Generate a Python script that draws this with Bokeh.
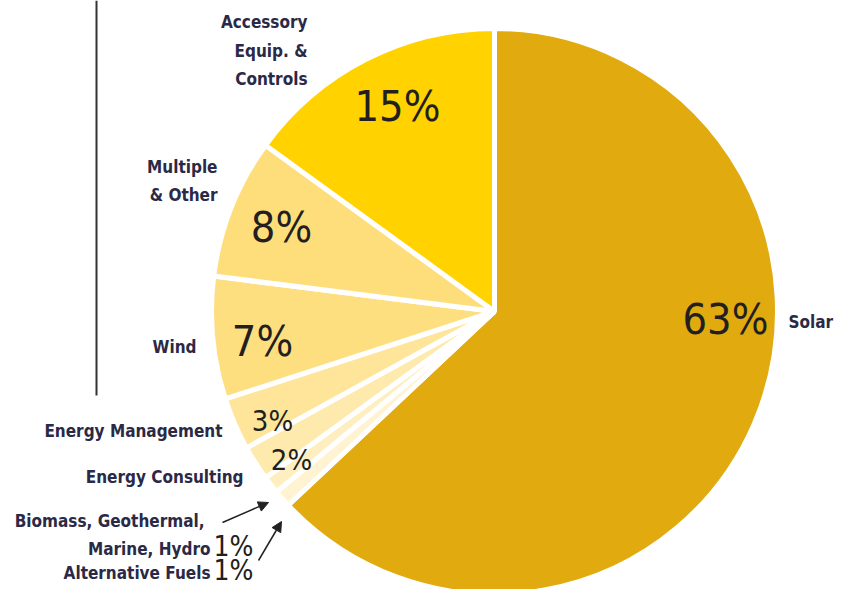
import numpy as np
from bokeh.plotting import figure
from bokeh.models import Range1d, Arrow, NormalHead
from bokeh.core.properties import value
from bokeh.embed import file_html
from bokeh.resources import INLINE

# ---- data (clockwise from 12 o'clock) ----
categories = ["Solar", "Alternative Fuels", "Biomass, Geothermal, Marine, Hydro",
              "Energy Consulting", "Energy Management", "Wind",
              "Multiple & Other", "Accessory Equip. & Controls"]
shares = [63, 1, 1, 2, 3, 7, 8, 15]
colors = ["#E1AA0E", "#FFF3D2", "#FFEFC0", "#FEEAAD", "#FEE59A", "#FEDF80",
          "#FEDE7B", "#FFD200"]
pct_labels = ["63%", "1%", "1%", "2%", "3%", "7%", "8%", "15%"]

W_FIG, H_FIG = 836, 589
def Y(py):
    return H_FIG - py

p = figure(width=W_FIG, height=H_FIG, output_backend="svg", toolbar_location=None,
           x_range=Range1d(0, W_FIG), y_range=Range1d(0, H_FIG),
           min_border=0, outline_line_color=None)
p.axis.visible = False
p.grid.visible = False
p.background_fill_color = "white"
p.border_fill_color = "white"

# ---- pie ----
cx, cy, r = 494, Y(311), 283
frac = np.array(shares, dtype=float) / sum(shares)
ends = np.pi / 2 - 2 * np.pi * np.cumsum(frac)
starts = np.concatenate([[np.pi / 2], ends[:-1]])
p.wedge(x=cx, y=cy, radius=r, start_angle=ends, end_angle=starts,
        direction="anticlock", fill_color=colors, line_color="white", line_width=5)

LFONT = value("DejaVu Sans Condensed")
LCOL = "#2A2946"
PCOL = "#231F20"

# ---- category labels (right aligned) ----
lab_text = ["Accessory", "Equip. &", "Controls", "Multiple", "& Other", "Wind",
            "Energy Management", "Energy Consulting", "Biomass, Geothermal,",
            "Marine, Hydro", "Alternative Fuels"]
lab_x = [307, 307, 307, 217, 217, 196, 222, 243, 204, 210, 210]
lab_y = [Y(v) for v in [21, 50, 78, 166, 194, 346, 430, 476, 520, 548, 572]]
p.text(x=lab_x, y=lab_y, text=lab_text, text_font=LFONT, text_font_style="bold",
       text_font_size="17px", text_color=LCOL, text_align="right",
       text_baseline="middle")
p.text(x=[788], y=[Y(321)], text=["Solar"], text_font=LFONT, text_font_style="bold",
       text_font_size="17px", text_color=LCOL, text_align="left",
       text_baseline="middle")

# ---- percentage labels ----
big_idx = [0, 5, 6, 7]
big_x = [725, 262, 281, 397]
big_y = [Y(v) for v in [318, 340, 226, 105]]
p.text(x=big_x, y=big_y, text=[pct_labels[i] for i in big_idx], text_font=LFONT,
       text_font_size="43px", text_color=PCOL, text_align="center",
       text_baseline="middle")
small_idx = [4, 3]
small_x = [272, 291]
small_y = [Y(v) for v in [420, 459]]
p.text(x=small_x, y=small_y, text=[pct_labels[i] for i in small_idx], text_font=LFONT,
       text_font_size="29px", text_color=PCOL, text_align="center",
       text_baseline="middle")
one_idx = [2, 1]
one_x = [213, 213]
one_y = [Y(v) for v in [546, 570]]
p.text(x=one_x, y=one_y, text=[pct_labels[i] for i in one_idx], text_font=LFONT,
       text_font_size="28px", text_color=PCOL, text_align="left",
       text_baseline="middle")

# ---- arrows ----
p.add_layout(Arrow(x_start=222, y_start=Y(522), x_end=268, y_end=Y(502),
                   line_color="#222222", line_width=1.5,
                   end=NormalHead(size=10, fill_color="#222222", line_color="#222222")))
p.add_layout(Arrow(x_start=258, y_start=Y(560), x_end=281, y_end=Y(521),
                   line_color="#222222", line_width=1.5,
                   end=NormalHead(size=10, fill_color="#222222", line_color="#222222")))

# ---- vertical rule ----
p.segment(x0=[96], y0=[Y(0)], x1=[96], y1=[Y(395)], line_color="#333333", line_width=2)

open("out.html", "w").write(file_html(p, INLINE))
